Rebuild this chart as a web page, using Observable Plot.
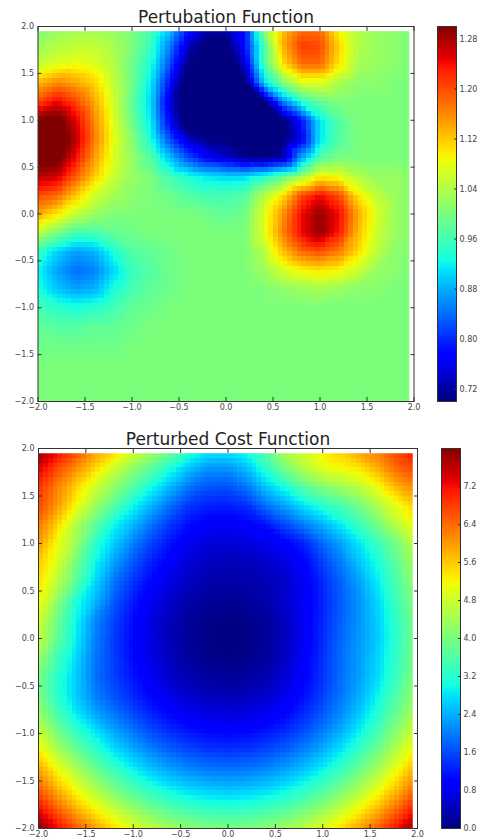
<!DOCTYPE html>
<html><head><meta charset="utf-8">
<script src="https://cdn.jsdelivr.net/npm/d3@7"></script>
<script src="https://cdn.jsdelivr.net/npm/@observablehq/plot@0.6"></script>
<style>
html,body{margin:0;padding:0;background:#fff;overflow:hidden}
#page{position:relative;width:477px;height:838px;overflow:hidden}
#page svg{position:absolute;background:transparent;overflow:visible}
</style></head><body><div id="page"></div>
<script>
const gridX=[-2,-1.8,-1.6,-1.4,-1.2,-1,-.8,-.6,-.4,-.2,0,.2,.4,.6,.8,1,1.2,1.4,1.6,1.8,1.95];
const gridY=[1.95,1.8,1.6,1.4,1.2,1,.8,.6,.4,.2,0,-.2,-.4,-.6,-.8,-1,-1.2,-1.4,-1.6,-1.8,-2];
const axisTicks=[-2,-1.5,-1,-.5,0,.5,1,1.5,2];
const perturbTicks=[.72,.8,.88,.96,1.04,1.12,1.2,1.28];
const costTicks=[0,.8,1.6,2.4,3.2,4,4.8,5.6,6.4,7.2];
const perturbation=[
[1,1.02,1.03,1.03,1.02,1,.96,.89,.78,.72,.72,.78,1,1.12,1.18,1.18,1.09,1.04,1.02,1.01,1],
[1.02,1.04,1.05,1.05,1.03,1,.95,.85,.74,.68,.68,.78,.96,1.13,1.21,1.2,1.11,1.04,1.02,1.01,1],
[1.05,1.07,1.08,1.07,1.04,.99,.93,.82,.7,.64,.64,.75,.96,1.1,1.18,1.18,1.1,1.03,1.02,1.01,1],
[1.13,1.16,1.14,1.11,1.05,.99,.91,.78,.66,.62,.62,.69,.9,1,1.07,1.07,1.03,1.01,1.01,1,1],
[1.2,1.24,1.2,1.14,1.06,.98,.9,.75,.66,.6,.6,.65,.7,.85,.94,.98,1,1,1,1,1],
[1.3,1.32,1.25,1.16,1.07,.99,.91,.77,.66,.6,.6,.62,.65,.69,.78,.91,.97,1,1,1,1],
[1.33,1.34,1.27,1.17,1.08,1.01,.93,.82,.74,.7,.7,.69,.66,.69,.76,.91,.97,1,1,1,1],
[1.31,1.32,1.24,1.15,1.07,1.02,.97,.89,.82,.77,.74,.71,.7,.72,.87,.97,1,1,1,1,1],
[1.27,1.26,1.19,1.12,1.06,1.02,1,.96,.93,.91,.9,.9,.93,.97,1.02,1.09,1.08,1.04,1.02,1.02,1.01],
[1.2,1.18,1.12,1.06,1.03,1.01,1,.99,.97,.96,.96,.97,1.04,1.1,1.2,1.24,1.2,1.1,1.05,1.02,1.01],
[1.14,1.1,1.05,1.02,1,1,1,1,1,.99,.98,.99,1.07,1.15,1.24,1.29,1.24,1.14,1.07,1.02,1.01],
[1.05,1,.96,.96,.98,.99,1,1,1,1,1,1,1.07,1.16,1.24,1.29,1.23,1.13,1.06,1.02,1.01],
[.95,.9,.87,.88,.93,.97,.98,.99,1,1,1,1,1.04,1.12,1.18,1.2,1.17,1.11,1.05,1.01,1.01],
[.92,.87,.84,.85,.9,.95,.97,.99,1,1,1,1,1.02,1.06,1.09,1.1,1.09,1.06,1.02,1.01,1],
[.93,.89,.87,.88,.93,.96,.98,.99,1,1,1,1,1,1.01,1.02,1.03,1.02,1.01,1.01,1,1],
[.96,.94,.93,.94,.96,.98,.99,1,1,1,1,1,1,1,1,1,1,1,1,1,1],
[.98,.97,.97,.98,.98,.99,1,1,1,1,1,1,1,1,1,1,1,1,1,1,1],
[.99,.99,.99,.99,.99,1,1,1,1,1,1,1,1,1,1,1,1,1,1,1,1],
[1,1,1,1,1,1,1,1,1,1,1,1,1,1,1,1,1,1,1,1,1],
[1,1,1,1,1,1,1,1,1,1,1,1,1,1,1,1,1,1,1,1,1],
[1,1,1,1,1,1,1,1,1,1,1,1,1,1,1,1,1,1,1,1,1]];
const cost=[
[7.8,7.2,6.6,5.9,5.4,4.8,4.3,3.75,3.1,2.75,2.75,3,3.6,4.4,4.8,5.2,5.5,5.9,6.2,6.7,7.1],
[7.4,6.7,6.1,5.5,4.8,4.2,3.7,3.1,2.55,2.2,2.2,2.55,3.26,4,4.6,5.05,5.2,5.4,5.9,6.5,6.7],
[6.9,6.2,5.5,4.8,4.2,3.6,3,2.45,1.9,1.66,1.64,1.95,2.6,3.1,3.7,4.1,4.36,4.65,5.2,5.85,6.1],
[6.7,6,5.15,4.35,3.6,2.96,2.4,1.85,1.4,1.24,1.22,1.38,1.9,2.3,2.8,3.2,3.5,3.95,4.55,5.1,5.5],
[6.3,5.5,4.5,3.7,2.95,2.44,1.9,1.4,1.05,.89,.86,.96,1.14,1.57,2,2.4,2.88,3.4,4,4.68,5.1],
[6,5.1,4.3,3.2,2.6,2,1.5,1.1,.77,.62,.6,.64,.75,.94,1.25,1.82,2.3,2.85,3.4,4,4.6],
[5.6,4.9,3.9,2.95,2.25,1.67,1.22,.85,.58,.44,.4,.42,.5,.68,.97,1.5,2,2.6,3.1,3.8,4.3],
[5.4,4.6,3.7,2.7,1.93,1.39,.98,.66,.44,.3,.26,.29,.37,.5,.82,1.32,1.8,2.32,2.92,3.6,4.16],
[5.2,4.2,3.1,2.45,1.7,1.18,.8,.5,.29,.17,.14,.19,.31,.52,.83,1.26,1.73,2.2,2.77,3.47,4],
[4.85,3.87,2.95,2.1,1.52,1.05,.68,.4,.19,.08,.04,.08,.2,.44,.82,1.29,1.78,2.2,2.7,3.35,3.88],
[4.7,3.75,2.85,2,1.44,1,.64,.36,.16,.04,0,.04,.17,.41,.81,1.32,1.83,2.23,2.65,3.3,3.84],
[4.3,3.4,2.7,1.94,1.45,1.03,.68,.4,.2,.08,.04,.08,.21,.46,.87,1.37,1.86,2.26,2.73,3.35,3.88],
[3.95,3.2,2.6,1.89,1.49,1.13,.78,.51,.32,.2,.16,.2,.33,.57,.94,1.39,1.87,2.29,2.8,3.43,4],
[4,3.2,2.6,2,1.62,1.29,.97,.71,.52,.4,.36,.4,.53,.75,1.07,1.48,1.94,2.41,2.98,3.64,4.16],
[4.3,3.5,2.85,2.31,1.93,1.57,1.25,.99,.8,.68,.64,.68,.8,1.01,1.31,1.69,2.12,2.63,3.23,3.88,4.44],
[4.8,3.99,3.31,2.85,2.34,1.96,1.62,1.36,1.16,1.04,1,1.04,1.16,1.36,1.64,2,2.44,2.96,3.56,4.24,4.8],
[5.33,4.54,3.88,3.33,2.82,2.42,2.08,1.8,1.6,1.48,1.44,1.48,1.6,1.8,2.08,2.44,2.88,3.4,4,4.68,5.24],
[5.96,5.2,4.52,3.92,3.4,2.96,2.6,2.32,2.12,2,1.96,2,2.12,2.32,2.6,2.96,3.4,3.92,4.52,5.2,5.76],
[6.56,5.8,5.12,4.52,4,3.56,3.2,2.92,2.72,2.6,2.56,2.6,2.72,2.92,3.2,3.56,4,4.52,5.12,5.8,6.36],
[7.24,6.48,5.8,5.2,4.68,4.24,3.88,3.6,3.4,3.28,3.24,3.28,3.4,3.6,3.88,4.24,4.68,5.2,5.8,6.48,7.04],
[8,7.24,6.56,5.96,5.44,5,4.64,4.36,4.16,4.04,4,4.04,4.16,4.36,4.64,5,5.44,5.96,6.56,7.24,7.8]];

const jetR=d3.scaleLinear([0,.35,.66,.89,1],[0,0,1,1,.5]).clamp(true);
const jetG=d3.scaleLinear([0,.125,.375,.64,.91,1],[0,0,1,1,0,0]).clamp(true);
const jetB=d3.scaleLinear([0,.11,.34,.65,1],[.5,1,1,0,0]).clamp(true);
const jet=t=>`rgb(${Math.round(255*jetR(t))},${Math.round(255*jetG(t))},${Math.round(255*jetB(t))})`;
const FONT='"DejaVu Sans"';
const INK="#444";
const EDGE="#333";
const page=document.getElementById("page");
function place(svg,left,top){svg.style.left=left+"px";svg.style.top=top+"px";page.appendChild(svg);}

function heat(rows,domain,title,box){
  const cells=gridY.flatMap((y,j)=>gridX.map((x,i)=>({x,y,v:rows[j][i]})));
  const mt=30,mb=22;
  const plot=Plot.plot({
    width:box.right+10,height:box.bottom-box.top+mt+mb,
    marginTop:mt,marginBottom:mb,marginLeft:box.left,marginRight:10,
    style:{fontFamily:FONT,fontSize:"8px",background:"transparent"},
    x:{domain:[-2,2],axis:null},y:{domain:[-2,2],axis:null},
    color:{type:"linear",domain,interpolate:jet,clamp:true},
    marks:[
      Plot.raster(cells,{x:"x",y:"y",fill:"v",x1:-2,x2:1.95,y1:-2,y2:1.95,width:79,height:79,interpolate:"barycentric",imageRendering:"pixelated"}),
      Plot.axisX({anchor:"bottom",ticks:axisTicks,tickSize:-4,tickPadding:7,tickFormat:".1f",label:null,stroke:EDGE,fill:INK}),
      Plot.axisX({anchor:"top",ticks:axisTicks,tickSize:-4,tickFormat:()=>"",label:null,stroke:EDGE}),
      Plot.axisY({anchor:"left",ticks:axisTicks,tickSize:-4,tickPadding:8,tickFormat:".1f",label:null,stroke:EDGE,fill:INK}),
      Plot.axisY({anchor:"right",ticks:axisTicks,tickSize:-4,tickFormat:()=>"",label:null,stroke:EDGE}),
      Plot.frame({stroke:EDGE,strokeWidth:1}),
      Plot.text([title],{frameAnchor:"top",dy:-4,fontSize:17,fill:"#222",lineAnchor:"bottom"})
    ]
  });
  place(plot,0,box.top-mt);
}
function bar(ticks,domain,box){
  const step=(domain[1]-domain[0])/256;
  const levels=d3.range(256).map(i=>domain[0]+i*step);
  const mt=8,mb=8,mr=34;
  const plot=Plot.plot({
    width:box.right-box.left+mr,height:box.bottom-box.top+mt+mb,
    marginTop:mt,marginBottom:mb,marginLeft:0,marginRight:mr,
    style:{fontFamily:FONT,fontSize:"8px",background:"transparent"},
    y:{domain,axis:null},
    color:{type:"linear",domain,interpolate:jet},
    marks:[
      Plot.rect(levels,{y1:d=>d,y2:d=>d+step,fill:d=>d,shapeRendering:"crispEdges"}),
      Plot.axisY({anchor:"right",ticks,tickSize:-3,tickPadding:6,tickFormat:".2f",label:null,stroke:EDGE,fill:INK,...box.fmt}),
      Plot.frame({stroke:EDGE,strokeWidth:1})
    ]
  });
  place(plot,box.left,box.top-mt);
}
heat(perturbation,[.7,1.3],"Pertubation Function",{left:37.5,right:413.5,top:26,bottom:401});
heat(cost,[0,8],"Perturbed Cost Function",{left:38,right:417,top:448,bottom:828});
bar(perturbTicks,[.7,1.3],{left:437,right:456,top:26,bottom:401});
bar(costTicks,[0,8],{left:441,right:460,top:448,bottom:828,fmt:{tickFormat:".1f"}});
</script></body></html>
